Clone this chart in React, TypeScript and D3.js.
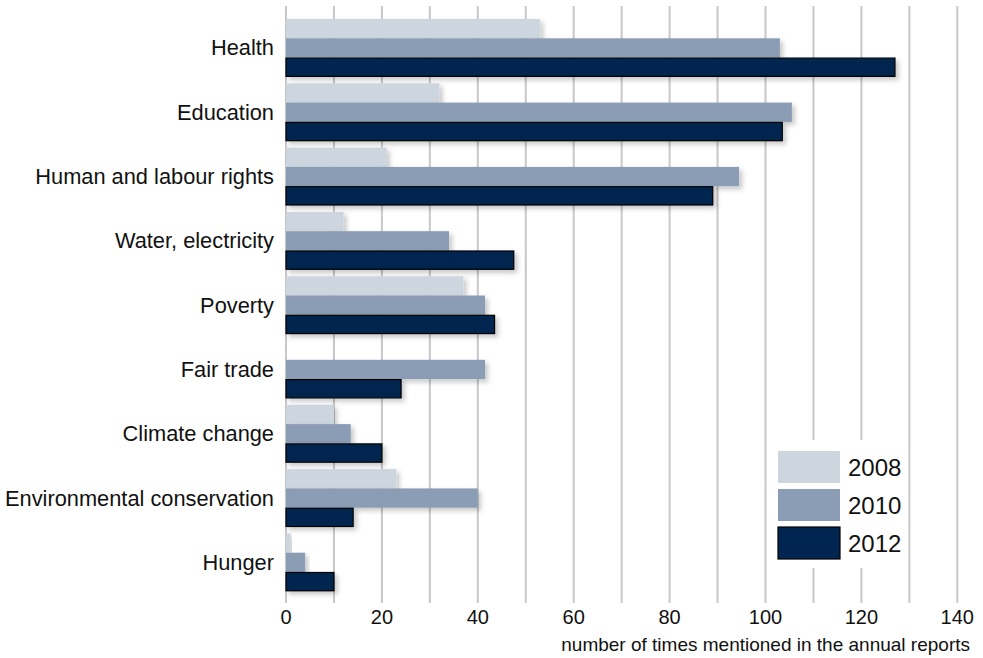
import React from "react";
import * as d3 from "d3";

const categories = [
  "Health",
  "Education",
  "Human and labour rights",
  "Water, electricity",
  "Poverty",
  "Fair trade",
  "Climate change",
  "Environmental conservation",
  "Hunger",
];
const years = ["2008", "2010", "2012"];
const values2008 = [53, 32, 21, 12, 37, 0, 10, 23, 1];
const values2010 = [103, 105.5, 94.5, 34, 41.5, 41.5, 13.5, 40, 4];
const values2012 = [127, 103.5, 89, 47.5, 43.5, 24, 20, 14, 10];
const xTicks = [0, 20, 40, 60, 80, 100, 120, 140];
const gridValues = d3.range(0, 141, 10);

const seriesValues = [values2008, values2010, values2012];
const colors = ["#CDD5DF", "#8B9DB4", "#002550"];
const FONT = "'Liberation Sans', Arial, sans-serif";

export default function App() {
  const W = 983;
  const H = 658;
  const x = d3.scaleLinear().domain([0, 140]).range([286, 957.3]);
  const y = d3
    .scaleBand<string>()
    .domain(categories)
    .range([15.8, 594.5])
    .paddingInner(0.1)
    .paddingOuter(0.05);
  const ySub = d3.scaleBand<string>().domain(years).range([0, y.bandwidth()]);

  const legendX = 778;
  const legendY = [451, 489, 527];

  return (
    <svg
      width={W}
      height={H}
      style={{ position: "absolute", left: 0, top: 0, background: "#fff" }}
      fontFamily={FONT}
    >
      <defs>
        <filter id="barShadow" x="-10%" y="-30%" width="130%" height="190%">
          <feDropShadow dx="3" dy="3" stdDeviation="2.5" floodColor="#000" floodOpacity="0.22" />
        </filter>
      </defs>

      {/* vertical grid */}
      {gridValues.map((v) => (
        <line
          key={v}
          x1={x(v)}
          x2={x(v)}
          y1={6}
          y2={603}
          stroke="#C8C8C8"
          strokeWidth={2}
        />
      ))}

      {/* bars */}
      {categories.map((c, i) => (
        <g key={c} transform={`translate(0,${y(c)})`}>
          {years.map((yr, s) => {
            const v = seriesValues[s][i];
            if (v <= 0) return null;
            const dark = s === 2;
            return (
              <rect
                key={yr}
                x={x(0)}
                y={ySub(yr)! + (dark ? 0.5 : 0)}
                width={x(v) - x(0)}
                height={ySub.bandwidth() - (dark ? 1 : 0)}
                fill={colors[s]}
                stroke={dark ? "#000" : "none"}
                strokeWidth={dark ? 1.2 : 0}
                filter="url(#barShadow)"
              />
            );
          })}
        </g>
      ))}

      {/* category labels */}
      {categories.map((c) => (
        <text
          key={c}
          x={274}
          y={y(c)! + y.bandwidth() / 2}
          textAnchor="end"
          dominantBaseline="central"
          fontSize={21.8}
          fill="#111"
        >
          {c}
        </text>
      ))}

      {/* x tick labels */}
      {xTicks.map((t) => (
        <text
          key={t}
          x={x(t)}
          y={624}
          textAnchor="middle"
          fontSize={20}
          fill="#111"
        >
          {t}
        </text>
      ))}
      <text x={970} y={651} textAnchor="end" fontSize={19} fill="#111">
        number of times mentioned in the annual reports
      </text>

      {/* legend */}
      <rect x={770} y={440} width={136} height={128} fill="#fff" />
      {years.map((yr, s) => (
        <g key={yr}>
          <rect
            x={legendX}
            y={legendY[s]}
            width={62}
            height={32}
            fill={colors[s]}
            stroke={s === 2 ? "#000" : "none"}
            strokeWidth={s === 2 ? 1.2 : 0}
          />
          <text
            x={848}
            y={legendY[s] + 16}
            dominantBaseline="central"
            fontSize={24}
            fill="#111"
          >
            {yr}
          </text>
        </g>
      ))}
    </svg>
  );
}
